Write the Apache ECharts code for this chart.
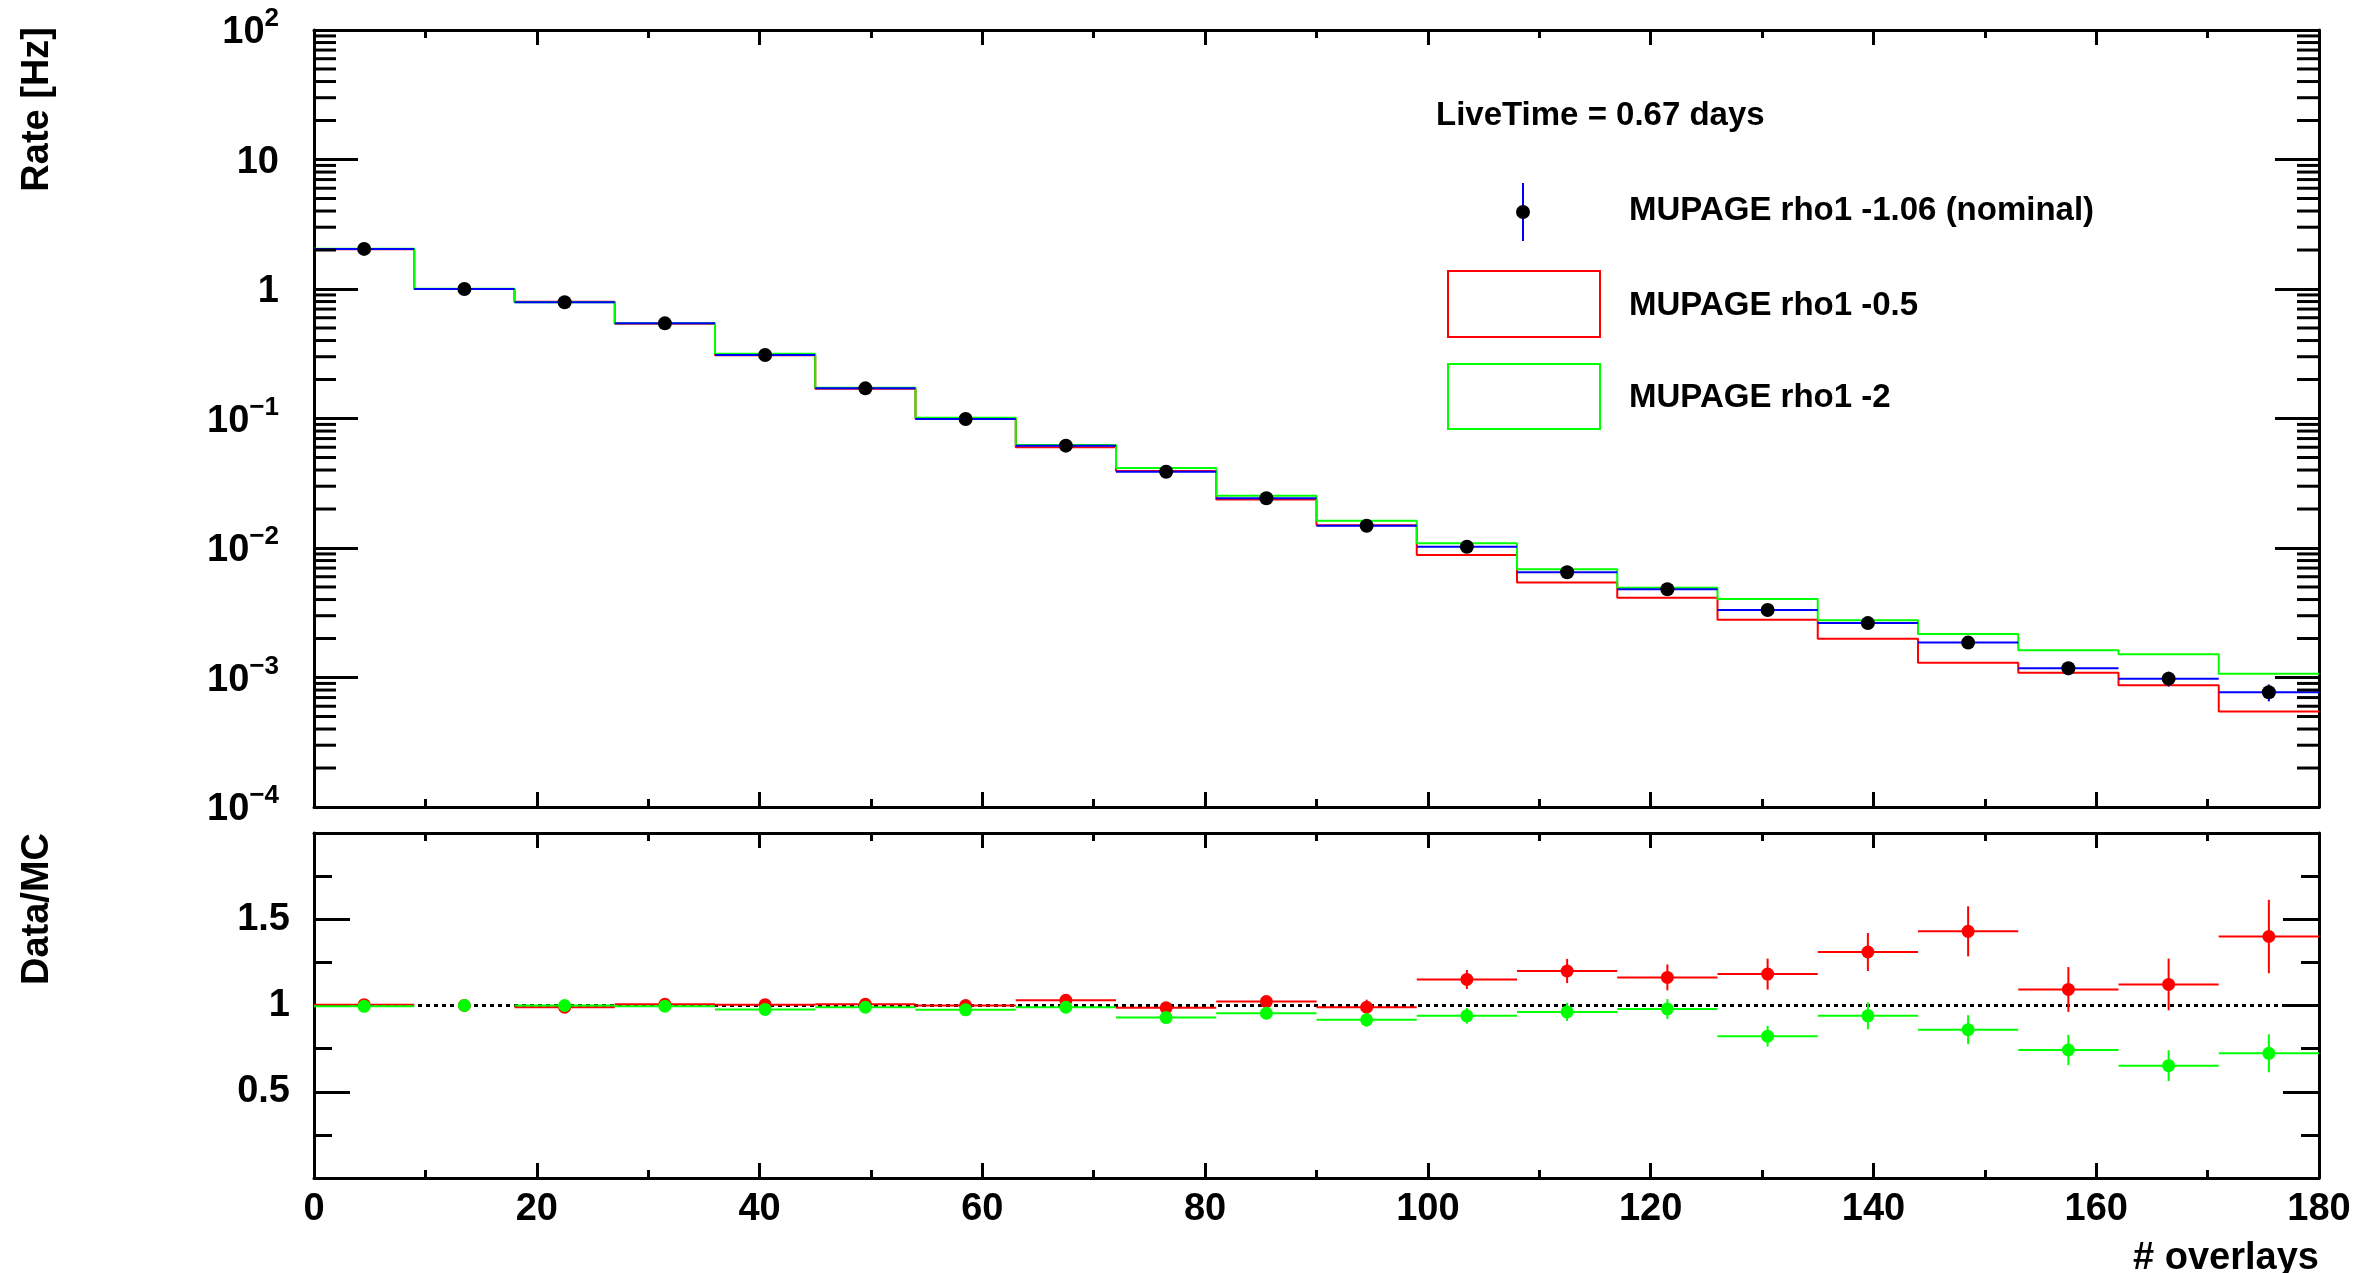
<!DOCTYPE html>
<html>
<head>
<meta charset="utf-8">
<title>overlays rate</title>
<script src="https://cdn.jsdelivr.net/npm/echarts@6/dist/echarts.min.js"></script>
<style>
html, body { margin: 0; padding: 0; background: #fff; }
#chart { width: 2380px; height: 1273px; }
</style>
</head>
<body>
<div id="chart"></div>
<script>
// bin edges of # overlays (20 bins, width 9)
var binEdges = [0, 9, 18, 27, 36, 45, 54, 63, 72, 81, 90, 99, 108, 117, 126, 135, 144, 153, 162, 171, 180];

// rate [Hz] per bin
var rateNominal = [2.04, 1.00, 0.79, 0.543, 0.309, 0.171, 0.099, 0.0617, 0.0388, 0.0242,
    0.01486, 0.01023, 0.00649, 0.0048, 0.00332, 0.00263, 0.00186, 0.00118, 0.00098, 0.000769];
var rateNominalErr = [0.006, 0.004, 0.004, 0.003, 0.0023, 0.0017, 0.0013, 0.001, 0.0008, 0.00065,
    0.0005, 0.00042, 0.00033, 0.00029, 0.00024, 0.00021, 0.00018, 0.00014, 0.00013, 0.000115];
var rateRho05 = [2.03, 1.00, 0.798, 0.539, 0.3075, 0.170, 0.099, 0.0599, 0.0393, 0.02366,
    0.0150, 0.00884, 0.00542, 0.00413, 0.00279, 0.00199, 0.0013, 0.00109, 0.00087, 0.000547];
var rateRho2 = [2.05, 1.005, 0.79, 0.545, 0.316, 0.1727, 0.1015, 0.0623, 0.0414, 0.02534,
    0.0162, 0.0109, 0.00685, 0.00494, 0.00403, 0.00277, 0.00217, 0.00162, 0.00151, 0.00107];

// Data/MC ratio per bin
var ratioRho05 = [1.005, 1.0, 0.99, 1.007, 1.005, 1.007, 1.0, 1.03, 0.987, 1.023,
    0.99, 1.151, 1.20, 1.163, 1.182, 1.31, 1.43, 1.093, 1.122, 1.40];
var ratioRho05Err = [0.004, 0, 0.006, 0.007, 0.009, 0.012, 0.015, 0.02, 0.025, 0.03,
    0.044, 0.055, 0.07, 0.075, 0.09, 0.11, 0.145, 0.13, 0.15, 0.213];
var ratioRho2 = [0.995, 1.0, 1.0, 0.996, 0.977, 0.99, 0.975, 0.99, 0.93, 0.955,
    0.917, 0.94, 0.963, 0.98, 0.822, 0.94, 0.86, 0.742, 0.651, 0.723];
var ratioRho2Err = [0.004, 0, 0.006, 0.007, 0.009, 0.011, 0.014, 0.02, 0.023, 0.028,
    0.04, 0.045, 0.053, 0.058, 0.06, 0.078, 0.084, 0.088, 0.09, 0.11];

var legendLabels = ['MUPAGE rho1 -1.06 (nominal)', 'MUPAGE rho1 -0.5', 'MUPAGE rho1 -2'];
var liveTimeText = 'LiveTime = 0.67 days';
var xTitle = '# overlays';
var yTitleTop = 'Rate [Hz]';
var yTitleBottom = 'Data/MC';

var FONT = 'Liberation Sans';
var RED = '#ff0000', GREEN = '#00ff00', BLUE = '#0000ff';

var chart = echarts.init(document.getElementById('chart'));

// step outline of a histogram: one point per left edge, plus the last right edge
function histLine(values) {
    var pts = [];
    for (var i = 0; i < values.length; i++) {
        pts.push([binEdges[i], values[i]]);
    }
    pts.push([binEdges[values.length], values[values.length - 1]]);
    return pts;
}

// [center, value, error, low edge, high edge]
function errPoints(values, errs) {
    var pts = [];
    for (var i = 0; i < values.length; i++) {
        pts.push([(binEdges[i] + binEdges[i + 1]) / 2, values[i], errs[i], binEdges[i], binEdges[i + 1]]);
    }
    return pts;
}

function errorBarItem(barColor, markColor, r) {
    return function (params, api) {
        var x = api.value(0), y = api.value(1), e = api.value(2);
        var p = api.coord([x, y]);
        var children = [];
        if (e > 0) {
            var pL = api.coord([api.value(3), y]);
            var pR = api.coord([api.value(4), y]);
            var pT = api.coord([x, y + e]);
            var pB = api.coord([x, y - e]);
            children.push({type: 'line', shape: {x1: pL[0], y1: pL[1], x2: pR[0], y2: pR[1]},
                style: {stroke: barColor, lineWidth: 2}});
            children.push({type: 'line', shape: {x1: p[0], y1: pT[1], x2: p[0], y2: pB[1]},
                style: {stroke: barColor, lineWidth: 2}});
        }
        children.push({type: 'circle', shape: {cx: p[0], cy: p[1], r: r}, style: {fill: markColor}});
        return {type: 'group', children: children};
    };
}

// minor ticks of the log axis (2..9 per decade)
var logMinor = [];
for (var k = -4; k < 2; k++) {
    for (var m = 2; m < 10; m++) {
        logMinor.push([0, m * Math.pow(10, k)]);
    }
}

function logLabel(v) {
    var e = Math.round(Math.log(v) / Math.LN10);
    if (e === 0) return '1';
    if (e === 1) return '10';
    return '{b|10}{s|' + (e < 0 ? '\u2212' + (-e) : e) + '}';
}

// superscript: both parts sit on the line bottom, the exponent is lifted by its bottom padding
var labelRich = {
    b: {fontSize: 38, fontWeight: 'bold', fontFamily: FONT, color: '#000', lineHeight: 38, verticalAlign: 'bottom'},
    s: {fontSize: 26, fontWeight: 'bold', fontFamily: FONT, color: '#000', lineHeight: 28,
        padding: [0, 0, 20, 0], verticalAlign: 'bottom'}
};

function xAxisCfg(gridIndex, pos, showLabel) {
    return {
        type: 'value', gridIndex: gridIndex, position: pos, min: 0, max: 180, interval: 20,
        axisLine: {show: true, onZero: false, lineStyle: {color: '#000', width: 3}},
        axisTick: {show: true, inside: true, length: 15, lineStyle: {color: '#000', width: 3}},
        minorTick: {show: true, splitNumber: 2, length: 8, lineStyle: {color: '#000', width: 3}},
        splitLine: {show: false},
        axisLabel: {show: showLabel, margin: 13, color: '#000', fontFamily: FONT, fontWeight: 'bold',
            fontSize: 38, showMinLabel: true, showMaxLabel: true}
    };
}

function logYCfg(pos, showLabel) {
    return {
        type: 'log', logBase: 10, gridIndex: 0, position: pos, min: 0.0001, max: 100, splitNumber: 6,
        axisLine: {show: true, onZero: false, lineStyle: {color: '#000', width: 3}},
        axisTick: {show: true, inside: true, length: 44, lineStyle: {color: '#000', width: 3}},
        minorTick: {show: false},
        splitLine: {show: false},
        axisLabel: {show: showLabel, margin: 35, color: '#000', fontFamily: FONT, fontWeight: 'bold',
            fontSize: 38, padding: [6, 0, 0, 0], formatter: logLabel, rich: labelRich}
    };
}

function ratioYCfg(pos, showLabel) {
    return {
        type: 'value', gridIndex: 1, position: pos, min: 0, max: 2, interval: 0.5,
        axisLine: {show: true, onZero: false, lineStyle: {color: '#000', width: 3}},
        axisTick: {show: true, inside: true, length: 36, lineStyle: {color: '#000', width: 3}},
        minorTick: {show: true, splitNumber: 2, length: 18, lineStyle: {color: '#000', width: 3}},
        splitLine: {show: false},
        axisLabel: {show: showLabel, margin: 24, color: '#000', fontFamily: FONT, fontWeight: 'bold',
            fontSize: 38, showMinLabel: true, showMaxLabel: true,
            formatter: function (v) { return (v === 0 || v === 2) ? '' : String(v); }}
    };
}

var textFont = 'bold 33px "' + FONT + '"';
var titleFont = 'bold 38px "' + FONT + '"';

var option = {
    animation: false,
    backgroundColor: '#fff',
    grid: [
        {left: 314, right: 61, top: 30, height: 777, outerBoundsMode: 'none'},
        {left: 314, right: 61, top: 833, height: 345, outerBoundsMode: 'none'}
    ],
    xAxis: [
        xAxisCfg(0, 'bottom', false),
        xAxisCfg(0, 'top', false),
        xAxisCfg(1, 'bottom', true),
        xAxisCfg(1, 'top', false)
    ],
    yAxis: [
        logYCfg('left', true),
        logYCfg('right', false),
        ratioYCfg('left', true),
        ratioYCfg('right', false)
    ],
    series: [
        {
            name: legendLabels[1], type: 'line', xAxisIndex: 0, yAxisIndex: 0, step: 'end', z: 2,
            data: histLine(rateRho05), showSymbol: false, symbol: 'none', silent: true,
            lineStyle: {color: RED, width: 2}
        },
        {
            name: legendLabels[2], type: 'line', xAxisIndex: 0, yAxisIndex: 0, step: 'end', z: 3,
            data: histLine(rateRho2), showSymbol: false, symbol: 'none', silent: true,
            lineStyle: {color: GREEN, width: 2}
        },
        {
            name: legendLabels[0], type: 'custom', xAxisIndex: 0, yAxisIndex: 0, silent: true, z: 5,
            data: errPoints(rateNominal, rateNominalErr), renderItem: errorBarItem(BLUE, '#000', 7)
        },
        {
            type: 'custom', xAxisIndex: 0, yAxisIndex: 0, silent: true, z: 5, data: logMinor,
            renderItem: function (params, api) {
                var v = api.value(1);
                var pL = api.coord([0, v]);
                var pR = api.coord([180, v]);
                return {type: 'group', children: [
                    {type: 'line', shape: {x1: pL[0], y1: pL[1], x2: pL[0] + 22, y2: pL[1]},
                        style: {stroke: '#000', lineWidth: 3}},
                    {type: 'line', shape: {x1: pR[0], y1: pR[1], x2: pR[0] - 22, y2: pR[1]},
                        style: {stroke: '#000', lineWidth: 3}}
                ]};
            }
        },
        {
            type: 'line', xAxisIndex: 2, yAxisIndex: 2, data: [[0, 1], [180, 1]], symbol: 'none', z: 2,
            silent: true, lineStyle: {color: '#000', width: 3, type: [4, 4]}
        },
        {
            type: 'custom', xAxisIndex: 2, yAxisIndex: 2, silent: true, z: 4,
            data: errPoints(ratioRho05, ratioRho05Err), renderItem: errorBarItem(RED, RED, 6.5)
        },
        {
            type: 'custom', xAxisIndex: 2, yAxisIndex: 2, silent: true, z: 5,
            data: errPoints(ratioRho2, ratioRho2Err), renderItem: errorBarItem(GREEN, GREEN, 6.5)
        }
    ],
    graphic: [
        {type: 'text', x: 38, y: 27, rotation: Math.PI / 2,
            style: {text: yTitleTop, font: titleFont, fill: '#000', align: 'right', verticalAlign: 'middle'}},
        {type: 'text', x: 38, y: 833, rotation: Math.PI / 2,
            style: {text: yTitleBottom, font: titleFont, fill: '#000', align: 'right', verticalAlign: 'middle'}},
        {type: 'text', x: 2319, y: 1259,
            style: {text: xTitle, font: titleFont, fill: '#000', align: 'right', verticalAlign: 'middle'}},
        {type: 'text', x: 1436, y: 116,
            style: {text: liveTimeText, font: textFont, fill: '#000', align: 'left', verticalAlign: 'middle'}},
        // legend
        {type: 'line', shape: {x1: 1523, y1: 183, x2: 1523, y2: 241}, style: {stroke: BLUE, lineWidth: 2}},
        {type: 'circle', shape: {cx: 1523, cy: 212, r: 7}, style: {fill: '#000'}},
        {type: 'rect', shape: {x: 1448, y: 271, width: 152, height: 66}, style: {fill: 'none', stroke: RED, lineWidth: 2}},
        {type: 'rect', shape: {x: 1448, y: 364, width: 152, height: 65}, style: {fill: 'none', stroke: GREEN, lineWidth: 2}},
        {type: 'text', x: 1629, y: 211,
            style: {text: legendLabels[0], font: textFont, fill: '#000', align: 'left', verticalAlign: 'middle'}},
        {type: 'text', x: 1629, y: 306,
            style: {text: legendLabels[1], font: textFont, fill: '#000', align: 'left', verticalAlign: 'middle'}},
        {type: 'text', x: 1629, y: 398,
            style: {text: legendLabels[2], font: textFont, fill: '#000', align: 'left', verticalAlign: 'middle'}}
    ]
};

chart.setOption(option);
</script>
</body>
</html>
